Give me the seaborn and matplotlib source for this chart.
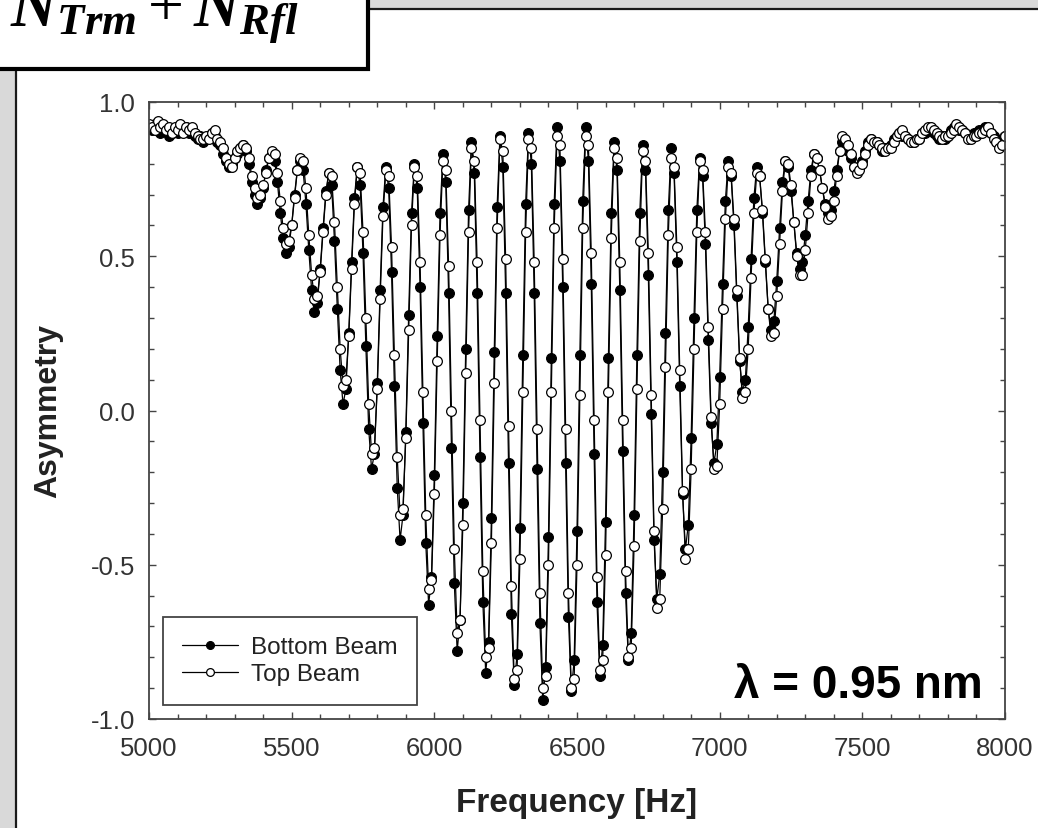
import numpy as np
import pandas as pd
import matplotlib
matplotlib.use("Agg")
import matplotlib.pyplot as plt
from matplotlib.patches import Rectangle
from matplotlib.ticker import MultipleLocator
import seaborn as sns

# frequency scan, 10 Hz steps
freq = np.arange(5000, 8001, 10)

# asymmetry, one row per 100 Hz
bottom_beam = [
    0.92, 0.91, 0.93, 0.92, 0.90, 0.92, 0.91, 0.89, 0.90, 0.91,
    0.90, 0.92, 0.91, 0.92, 0.90, 0.91, 0.89, 0.88, 0.89, 0.87,
    0.88, 0.89, 0.90, 0.89, 0.87, 0.86, 0.83, 0.81, 0.79, 0.80,
    0.82, 0.83, 0.85, 0.86, 0.84, 0.80, 0.74, 0.70, 0.67, 0.69,
    0.72, 0.78, 0.82, 0.83, 0.81, 0.74, 0.64, 0.56, 0.51, 0.53,
    0.60, 0.70, 0.78, 0.81, 0.78, 0.67, 0.52, 0.39, 0.32, 0.35,
    0.46, 0.59, 0.71, 0.77, 0.73, 0.55, 0.33, 0.13, 0.02, 0.07,
    0.25, 0.48, 0.69, 0.79, 0.73, 0.51, 0.21, -0.06, -0.19, -0.14,
    0.09, 0.39, 0.66, 0.79, 0.72, 0.45, 0.08, -0.25, -0.42, -0.34,
    -0.07, 0.31, 0.64, 0.80, 0.72, 0.40, -0.04, -0.43, -0.63, -0.54,
    -0.21, 0.24, 0.64, 0.83, 0.74, 0.38, -0.12, -0.56, -0.78, -0.68,
    -0.30, 0.20, 0.65, 0.87, 0.77, 0.38, -0.15, -0.62, -0.85, -0.75,
    -0.35, 0.19, 0.66, 0.89, 0.79, 0.38, -0.17, -0.66, -0.89, -0.79,
    -0.38, 0.18, 0.67, 0.90, 0.80, 0.38, -0.19, -0.69, -0.94, -0.83,
    -0.41, 0.17, 0.67, 0.92, 0.81, 0.40, -0.17, -0.67, -0.91, -0.81,
    -0.39, 0.18, 0.68, 0.92, 0.81, 0.41, -0.14, -0.62, -0.86, -0.76,
    -0.36, 0.17, 0.64, 0.87, 0.78, 0.39, -0.13, -0.59, -0.81, -0.72,
    -0.34, 0.18, 0.64, 0.86, 0.78, 0.44, -0.01, -0.42, -0.61, -0.53,
    -0.20, 0.25, 0.65, 0.85, 0.77, 0.48, 0.08, -0.27, -0.45, -0.37,
    -0.09, 0.30, 0.65, 0.82, 0.76, 0.54, 0.23, -0.04, -0.17, -0.11,
    0.11, 0.41, 0.68, 0.81, 0.76, 0.60, 0.37, 0.16, 0.06, 0.10,
    0.27, 0.49, 0.69, 0.79, 0.76, 0.64, 0.48, 0.33, 0.26, 0.29,
    0.42, 0.59, 0.74, 0.81, 0.79, 0.71, 0.61, 0.51, 0.46, 0.48,
    0.57, 0.68, 0.78, 0.83, 0.82, 0.78, 0.72, 0.67, 0.64, 0.65,
    0.71, 0.78, 0.84, 0.87, 0.86, 0.84, 0.82, 0.79, 0.78, 0.79,
    0.81, 0.84, 0.87, 0.88, 0.87, 0.87, 0.86, 0.84, 0.85, 0.85,
    0.86, 0.88, 0.89, 0.90, 0.89, 0.89, 0.88, 0.87, 0.87, 0.88,
    0.88, 0.90, 0.90, 0.91, 0.91, 0.90, 0.89, 0.88, 0.89, 0.88,
    0.89, 0.91, 0.92, 0.92, 0.91, 0.91, 0.90, 0.89, 0.89, 0.90,
    0.90, 0.91, 0.91, 0.92, 0.91, 0.90, 0.89, 0.88, 0.87, 0.88,
    0.89,
]

top_beam = [
    0.93, 0.92, 0.91, 0.94, 0.92, 0.93, 0.91, 0.92, 0.90, 0.92,
    0.91, 0.93, 0.90, 0.92, 0.91, 0.92, 0.90, 0.89, 0.88, 0.88,
    0.89, 0.88, 0.90, 0.91, 0.88, 0.87, 0.85, 0.82, 0.80, 0.79,
    0.82, 0.84, 0.85, 0.86, 0.85, 0.82, 0.76, 0.72, 0.69, 0.70,
    0.73, 0.77, 0.82, 0.84, 0.83, 0.77, 0.68, 0.59, 0.54, 0.55,
    0.60, 0.69, 0.78, 0.82, 0.81, 0.72, 0.57, 0.44, 0.36, 0.37,
    0.45, 0.58, 0.70, 0.77, 0.76, 0.61, 0.40, 0.20, 0.08, 0.10,
    0.24, 0.46, 0.67, 0.79, 0.77, 0.58, 0.30, 0.02, -0.14, -0.12,
    0.07, 0.36, 0.63, 0.78, 0.76, 0.53, 0.18, -0.15, -0.34, -0.32,
    -0.09, 0.26, 0.60, 0.79, 0.76, 0.48, 0.06, -0.34, -0.58, -0.55,
    -0.27, 0.16, 0.57, 0.81, 0.78, 0.47, 0.00, -0.45, -0.72, -0.68,
    -0.37, 0.12, 0.58, 0.85, 0.81, 0.48, -0.03, -0.52, -0.80, -0.77,
    -0.43, 0.09, 0.59, 0.88, 0.84, 0.49, -0.05, -0.57, -0.87, -0.84,
    -0.48, 0.06, 0.58, 0.88, 0.85, 0.48, -0.06, -0.59, -0.90, -0.86,
    -0.50, 0.06, 0.59, 0.89, 0.86, 0.49, -0.06, -0.59, -0.90, -0.87,
    -0.50, 0.05, 0.59, 0.89, 0.86, 0.51, -0.03, -0.54, -0.84, -0.81,
    -0.47, 0.06, 0.56, 0.85, 0.82, 0.48, -0.03, -0.52, -0.80, -0.77,
    -0.44, 0.07, 0.55, 0.84, 0.81, 0.51, 0.05, -0.39, -0.64, -0.61,
    -0.32, 0.14, 0.57, 0.82, 0.79, 0.53, 0.13, -0.26, -0.48, -0.45,
    -0.19, 0.20, 0.58, 0.81, 0.78, 0.58, 0.27, -0.02, -0.19, -0.18,
    0.02, 0.33, 0.62, 0.79, 0.77, 0.62, 0.39, 0.17, 0.04, 0.06,
    0.20, 0.43, 0.64, 0.77, 0.76, 0.65, 0.49, 0.33, 0.24, 0.25,
    0.37, 0.54, 0.71, 0.81, 0.80, 0.73, 0.61, 0.50, 0.44, 0.44,
    0.52, 0.64, 0.76, 0.83, 0.82, 0.78, 0.72, 0.66, 0.62, 0.63,
    0.68, 0.76, 0.84, 0.89, 0.88, 0.86, 0.83, 0.79, 0.77, 0.78,
    0.80, 0.83, 0.86, 0.88, 0.87, 0.87, 0.86, 0.85, 0.84, 0.85,
    0.85, 0.87, 0.89, 0.90, 0.91, 0.89, 0.88, 0.87, 0.87, 0.88,
    0.88, 0.90, 0.91, 0.92, 0.92, 0.91, 0.90, 0.89, 0.88, 0.89,
    0.89, 0.90, 0.91, 0.93, 0.92, 0.91, 0.90, 0.88, 0.88, 0.89,
    0.89, 0.90, 0.90, 0.91, 0.92, 0.90, 0.88, 0.87, 0.85, 0.86,
    0.89,
]

sns.set_style("ticks")
plt.rcParams["font.family"] = ["Liberation Sans", "DejaVu Sans"]
plt.rcParams["axes.unicode_minus"] = False
plt.rcParams["mathtext.fontset"] = "custom"
plt.rcParams["mathtext.it"] = "Liberation Serif:italic:bold"
plt.rcParams["mathtext.rm"] = "Liberation Serif"

df = pd.DataFrame({"Frequency": freq, "Bottom Beam": bottom_beam, "Top Beam": top_beam})

W, H = 1038, 829
fig = plt.figure(figsize=(W / 100, H / 100), dpi=100, facecolor="#d9d9d9")

# white slide panel behind the chart
fig.patches.append(Rectangle((16 / W, -0.1), 1.2, 1.1 - 10 / H, transform=fig.transFigure,
                             facecolor="white", edgecolor="#1a1a1a", lw=1.6, zorder=-3))
# formula box in the corner
fig.patches.append(Rectangle((-0.05, 1 - 70 / H), 0.05 + 368 / W, 0.2, transform=fig.transFigure,
                             facecolor="white", edgecolor="black", lw=3, zorder=-2))
fig.text(10 / W, 1 - 25 / H, r"$N_{Trm} + N_{Rfl}$", fontsize=46, color="black",
         ha="left", va="baseline", zorder=5)

ax = fig.add_axes([149 / W, 1 - 720 / H, 856 / W, 617 / H])
ax.set_facecolor("white")

line_kw = dict(color="black", lw=0.9, marker="o", markersize=7,
               markeredgecolor="black", markeredgewidth=0.9, errorbar=None)
sns.lineplot(data=df, x="Frequency", y="Bottom Beam", ax=ax, markerfacecolor="black",
             label="Bottom Beam", **line_kw)
sns.lineplot(data=df, x="Frequency", y="Top Beam", ax=ax, markerfacecolor="white",
             label="Top Beam", **line_kw)

ax.set_xlim(5000, 8000)
ax.set_ylim(-1.0, 1.0)
ax.xaxis.set_major_locator(MultipleLocator(500))
ax.xaxis.set_minor_locator(MultipleLocator(100))
ax.yaxis.set_major_locator(MultipleLocator(0.5))
ax.yaxis.set_minor_locator(MultipleLocator(0.1))
ax.yaxis.set_major_formatter(plt.FuncFormatter(lambda v, p: f"{v:.1f}"))

ax.tick_params(which="both", direction="in", top=True, right=True, colors="#444",
               labelcolor="#333", labelsize=18.5, width=1)
ax.tick_params(which="major", length=5)
ax.tick_params(which="minor", length=3.6)
ax.tick_params(axis="x", which="major", pad=12.5)
ax.tick_params(axis="y", which="major", pad=10)
for s in ax.spines.values():
    s.set_color("#444")
    s.set_linewidth(1.3)

ax.set_xlabel("Frequency [Hz]", fontsize=24, fontweight="bold", color="#222")
ax.xaxis.set_label_coords(0.5, -0.11)
ax.set_ylabel("Asymmetry", fontsize=23, fontweight="bold", color="#222")
ax.yaxis.set_label_coords(-0.10, 0.5)

handles, labels = ax.get_legend_handles_labels()
leg = ax.legend(handles, labels, loc="lower left", bbox_to_anchor=(0.016, 0.023),
                borderaxespad=0, fontsize=17.5, frameon=True, fancybox=False,
                edgecolor="#444", framealpha=1, handlelength=2.3, handletextpad=0.55,
                borderpad=0.8, labelspacing=0.2, markerscale=0.8)
leg.get_frame().set_linewidth(1.3)
for t in leg.get_texts():
    t.set_color("#222")

ax.text(0.974, 0.036, "λ = 0.95 nm", transform=ax.transAxes, ha="right", va="baseline",
        fontsize=33, fontweight="bold", color="black")

fig.savefig("out.png", dpi=100, facecolor=fig.get_facecolor())
